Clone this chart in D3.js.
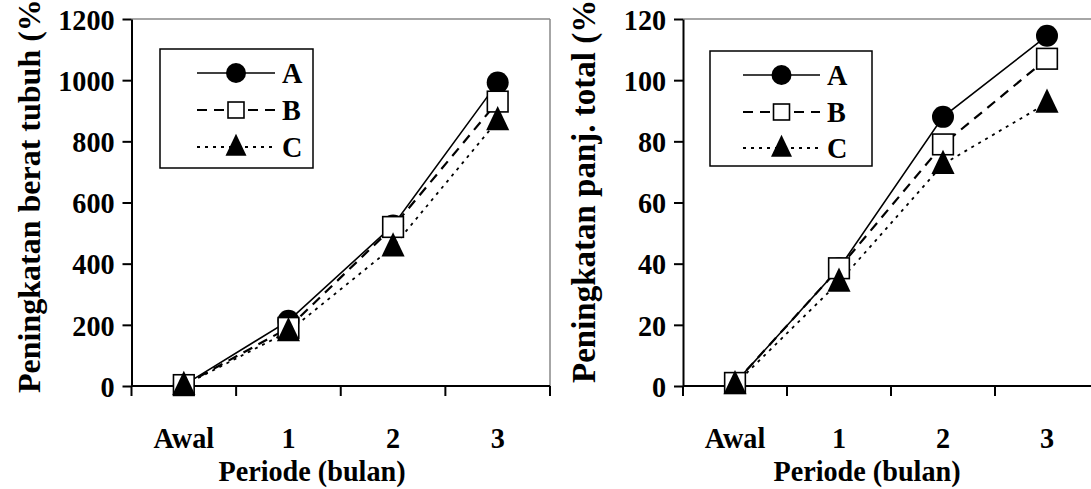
<!DOCTYPE html>
<html>
<head>
<meta charset="utf-8">
<title>Peningkatan berat dan panjang</title>
<script src="https://d3js.org/d3.v7.min.js"></script>
<style>
  body { margin: 0; background: #fff; }
</style>
</head>
<body>
<svg id="chart" width="1091" height="489"></svg>
<script>
// data
var periods = ["Awal", "1", "2", "3"];
var seriesNames = ["A", "B", "C"];

var beratA = [3, 213, 525, 992];
var beratB = [3, 190, 520, 930];
var beratC = [2, 178, 455, 868];

var panjangA = [1, 38.5, 88, 114.5];
var panjangB = [1, 38.5, 79, 107];
var panjangC = [0.5, 34, 72.5, 92.5];

var beratTicks = [0, 200, 400, 600, 800, 1000, 1200];
var panjangTicks = [0, 20, 40, 60, 80, 100, 120];

var svg = d3.select("#chart");
var hs = 0.94; // text looks a bit squeezed sideways
var serif = "'Liberation Serif'";

var styles = {
  A: { dash: null, width: 1.6, marker: "circle" },
  B: { dash: "10,7", width: 2.2, marker: "square" },
  C: { dash: "3,5", width: 1.8, marker: "triangle" }
};

function drawMarker(g, type, cx, cy, size) {
  if (type == "circle") {
    g.append("circle").attr("cx", cx).attr("cy", cy).attr("r", size / 2)
      .attr("fill", "#000");
  } else if (type == "square") {
    g.append("rect").attr("x", cx - size * 0.47).attr("y", cy - size * 0.47)
      .attr("width", size * 0.94).attr("height", size * 0.94)
      .attr("fill", "#fff").attr("stroke", "#000").attr("stroke-width", 1.6);
  } else {
    var w = size * 1.05, h = size * 1.1;
    g.append("path")
      .attr("d", "M" + cx + "," + (cy - h * 0.6) + "L" + (cx + w / 2) + "," + (cy + h * 0.4) +
                 "L" + (cx - w / 2) + "," + (cy + h * 0.4) + "Z")
      .attr("fill", "#000");
  }
}

function bold(sel, size) {
  return sel.style("font-family", serif).style("font-weight", "bold")
    .style("font-size", size + "px").style("fill", "#000");
}

function hText(g, x, y, str, anchor, size) {
  bold(g.append("text"), size || 30)
    .attr("transform", "translate(" + x + "," + y + ") scale(" + hs + ",1)")
    .attr("text-anchor", anchor || "middle")
    .text(str);
}

function drawPanel(cfg) {
  var g = svg.append("g");
  var x = d3.scaleBand().domain(periods).range([cfg.left, cfg.right]);
  var y = d3.scaleLinear().domain([0, cfg.max]).range([386, 19]);

  // grey frame top / right
  g.append("line").attr("x1", cfg.left).attr("x2", cfg.right)
    .attr("y1", y(cfg.max)).attr("y2", y(cfg.max))
    .attr("stroke", "#888").attr("stroke-width", 1.5);
  g.append("line").attr("x1", cfg.right).attr("x2", cfg.right)
    .attr("y1", y(cfg.max)).attr("y2", y(0))
    .attr("stroke", "#888").attr("stroke-width", 1.5);

  // y axis
  var yAxis = g.append("g")
    .attr("transform", "translate(" + cfg.left + ",0)")
    .call(d3.axisLeft(y).tickValues(cfg.ticks).tickFormat(d3.format("d"))
      .tickSize(9).tickSizeOuter(0).tickPadding(9));
  yAxis.select(".domain").attr("stroke", "#000").attr("stroke-width", 2);
  yAxis.selectAll(".tick line").attr("stroke", "#000").attr("stroke-width", 2);
  bold(yAxis.selectAll(".tick text"), 30)
    .attr("transform", "scale(" + hs + ",1)")
    .attr("dy", "0.34em");

  // x axis with ticks between categories
  g.append("line").attr("x1", cfg.left).attr("x2", cfg.right)
    .attr("y1", y(0)).attr("y2", y(0))
    .attr("stroke", "#000").attr("stroke-width", 2);
  var bounds = periods.map(function(p) { return x(p); }).concat([x.range()[1]]);
  g.selectAll(".xtick").data(bounds).enter().append("line")
    .attr("x1", function(d) { return d; }).attr("x2", function(d) { return d; })
    .attr("y1", y(0)).attr("y2", y(0) + 10)
    .attr("stroke", "#000")
    .attr("stroke-width", 2);
  periods.forEach(function(p) {
    hText(g, x(p) + x.bandwidth() / 2, 448, p);
  });
  hText(g, cfg.xTitleX, 481, "Periode (bulan)");

  // y title
  bold(g.append("text"), cfg.yTitleSize)
    .attr("transform", "translate(" + cfg.yTitleX + "," + cfg.yTitleY + ") rotate(-90)")
    .attr("text-anchor", "start")
    .text(cfg.yTitle);

  var cx = function(i) { return x(periods[i]) + x.bandwidth() / 2; };

  // lines
  cfg.data.forEach(function(vals, s) {
    var st = styles[seriesNames[s]];
    var line = d3.line().x(function(d, i) { return cx(i); }).y(function(d) { return y(d); });
    g.append("path").attr("d", line(vals))
      .attr("fill", "none").attr("stroke", "#000")
      .attr("stroke-width", st.width)
      .attr("stroke-dasharray", st.dash);
  });
  // markers
  cfg.data.forEach(function(vals, s) {
    var st = styles[seriesNames[s]];
    vals.forEach(function(v, i) { drawMarker(g, st.marker, cx(i), y(v), 22); });
  });

  // legend
  var L = cfg.legend;
  g.append("rect").attr("x", L.x).attr("y", L.y).attr("width", L.w).attr("height", L.h)
    .attr("fill", "#fff").attr("stroke", "#000").attr("stroke-width", 1.5);
  seriesNames.forEach(function(name, s) {
    var st = styles[name];
    var ly = L.rowY[s];
    g.append("line").attr("x1", L.x1).attr("x2", L.x2).attr("y1", ly).attr("y2", ly)
      .attr("stroke", "#000").attr("stroke-width", st.width)
      .attr("stroke-dasharray", st.dash);
    drawMarker(g, st.marker, (L.x1 + L.x2) / 2, ly, name == "B" ? 17 : 20);
    hText(g, L.labelX, ly + 10, name, "start");
  });
}

drawPanel({
  left: 131.5, right: 550, max: 1200, ticks: beratTicks,
  data: [beratA, beratB, beratC],
  yTitle: "Peningkatan berat tubuh (%)", yTitleX: 40, yTitleY: 393, yTitleSize: 32,
  xTitleX: 312,
  legend: { x: 160, y: 49, w: 153, h: 119, x1: 197, x2: 275, labelX: 282, rowY: [73, 110, 147] }
});

drawPanel({
  left: 683, right: 1099, max: 120, ticks: panjangTicks,
  data: [panjangA, panjangB, panjangC],
  yTitle: "Peningkatan panj. total (%)", yTitleX: 595, yTitleY: 383, yTitleSize: 33,
  xTitleX: 867,
  legend: { x: 710, y: 51, w: 162, h: 115, x1: 743, x2: 820, labelX: 827, rowY: [75, 112, 148] }
});
</script>
</body>
</html>
